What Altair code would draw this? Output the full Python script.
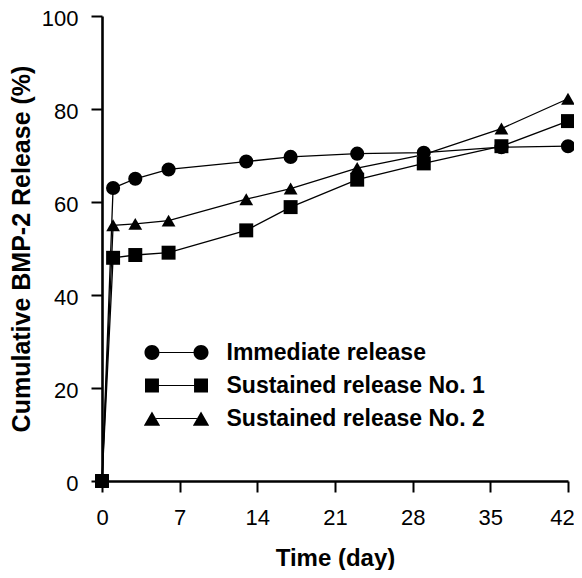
import altair as alt
import pandas as pd

# ---- data ----
days = [0, 1, 3, 6, 13, 17, 23, 29, 36, 42]
immediate = [0, 63.0, 65.0, 67.0, 68.7, 69.7, 70.4, 70.6, 71.8, 72.0]
sustained1 = [0, 48.0, 48.6, 49.1, 53.9, 58.9, 64.8, 68.3, 72.0, 77.4]
sustained2 = [0, 55.0, 55.3, 56.0, 60.6, 62.9, 67.3, 70.2, 75.8, 82.2]
series_names = ["Immediate release", "Sustained release No. 1", "Sustained release No. 2"]
x_ticks = [0, 7, 14, 21, 28, 35, 42]
y_ticks = [0, 20, 40, 60, 80, 100]

rows = []
for name, vals in zip(series_names, [immediate, sustained1, sustained2]):
    for d, v in zip(days, vals):
        rows.append({"day": d, "release": v, "series": name})
df = pd.DataFrame(rows)

FONT = "Liberation Sans, Arial, sans-serif"

# legend symbols: marker - line - marker (units of sqrt(size)/2)
legend_paths = [
    "M -4.27 0 A 1 1 0 1 1 -2.27 0 A 1 1 0 1 1 -4.27 0 Z "
    "M 2.27 0 A 1 1 0 1 1 4.27 0 A 1 1 0 1 1 2.27 0 Z "
    "M -2.27 -0.07 L 2.27 -0.07 L 2.27 0.07 L -2.27 0.07 Z",
    "M -4.2 -0.93 L -2.34 -0.93 L -2.34 0.93 L -4.2 0.93 Z "
    "M 2.34 -0.93 L 4.2 -0.93 L 4.2 0.93 L 2.34 0.93 Z "
    "M -2.34 -0.07 L 2.34 -0.07 L 2.34 0.07 L -2.34 0.07 Z",
    "M -3.27 -0.95 L -2.18 0.95 L -4.36 0.95 Z "
    "M 3.27 -0.95 L 4.36 0.95 L 2.18 0.95 Z "
    "M -2.72 -0.07 L 2.72 -0.07 L 2.72 0.07 L -2.72 0.07 Z",
]

x_enc = alt.X(
    "day:Q",
    scale=alt.Scale(domain=[0, 42], nice=False, zero=False),
    axis=alt.Axis(values=x_ticks, title="Time (day)", labelPadding=15, labelFlush=False,
                  labelOffset={"condition": {"test": "datum.value == 42", "value": -6}, "value": 0},
                  titleY=84, titleBaseline="alphabetic"),
)
y_enc = alt.Y(
    "release:Q",
    scale=alt.Scale(domain=[0, 100], nice=False),
    axis=alt.Axis(values=y_ticks, title="Cumulative BMP-2 Release (%)", labelPadding=13,
                  labelOffset=2,
                  titleX=-73, titleY=232.5, titleBaseline="alphabetic", titleAngle=270,
                  titleAlign="center", titleFontSize=25),
)

lines = alt.Chart(df).mark_line(color="black", strokeWidth=1.3).encode(
    x=x_enc, y=y_enc, detail="series:N"
)

points = alt.Chart(df).mark_point(filled=True, color="black", opacity=1).encode(
    x=x_enc, y=y_enc,
    shape=alt.Shape("series:N",
                    scale=alt.Scale(domain=series_names, range=["circle", "square", "triangle-up"]),
                    legend=None),
    size=alt.Size("series:N",
                  scale=alt.Scale(domain=series_names, range=[200, 190, 250]),
                  legend=None),
)

legend_layer = alt.Chart(df).transform_filter("false").mark_point(
    filled=True, color="black", opacity=1
).encode(
    x=x_enc, y=y_enc,
    shape=alt.Shape("series:N",
                    scale=alt.Scale(domain=series_names, range=legend_paths),
                    legend=alt.Legend(title=None, orient="none", legendX=63, legendY=325,
                                      symbolSize=225, symbolFillColor="black",
                                      symbolStrokeWidth=0, symbolOpacity=1,
                                      labelFont=FONT, labelFontSize=23, labelFontWeight="bold",
                                      labelColor="black", labelOffset=38.5, labelLimit=400,
                                      rowPadding=9, padding=0)),
)

chart = alt.layer(lines, points, legend_layer).resolve_scale(
    shape="independent", size="independent"
).properties(
    width=466, height=465,
    padding={"left": 94, "top": 8, "right": 6, "bottom": 89},
    autosize=alt.AutoSizeParams(type="none"),
).configure_view(stroke=None).configure_axis(
    grid=False,
    domainColor="black", domainWidth=2.6,
    tickColor="black", tickWidth=2, tickSize=11,
    labelFont=FONT, labelFontSize=22, labelColor="black",
    titleFont=FONT, titleFontSize=24, titleFontWeight="bold", titleColor="black",
)

chart.save("out.html", embed_options={"renderer": "svg", "actions": False})
